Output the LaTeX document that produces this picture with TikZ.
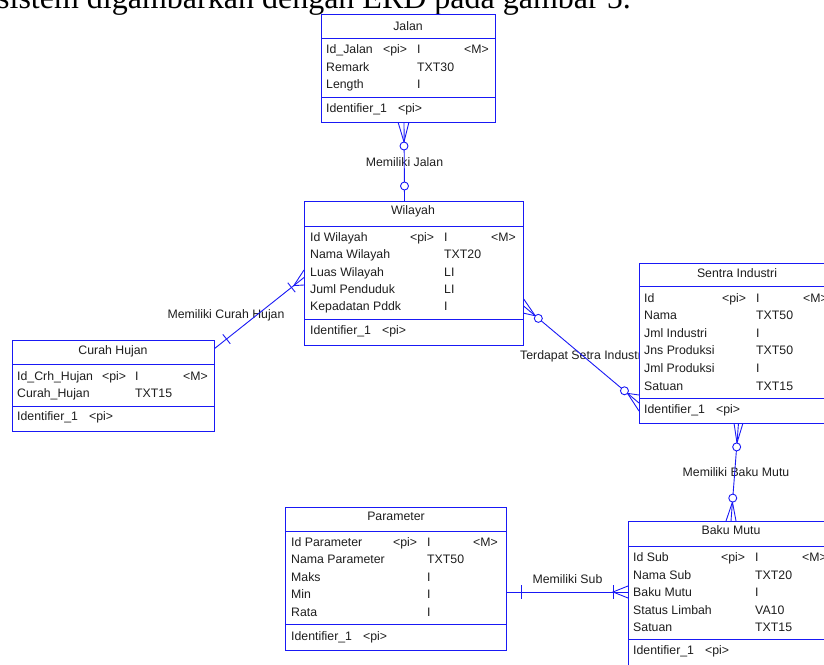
\documentclass[tikz,border=0pt]{standalone}
\usepackage{fontspec}
\setmainfont{Liberation Sans}
\newfontfamily\serifdoc{Liberation Serif}
\usetikzlibrary{calc,backgrounds}
\definecolor{erdblue}{RGB}{25,25,245}
\definecolor{erdtext}{RGB}{30,30,30}
\newcounter{tn}
\newcommand\tx[3]{\stepcounter{tn}\node[lbl,anchor=base west,name=t\number\value{tn}] at (#1,{#2+4.3}) {#3};}
\newcommand\tc[3]{\stepcounter{tn}\node[lbl,anchor=base,name=t\number\value{tn}] at (#1,{#2+4.3}) {#3};}
\begin{document}
\begin{tikzpicture}[x=1pt,y=-1pt,
 ent/.style={draw=erdblue,fill=white,line width=0.9pt,rectangle,anchor=north west,inner sep=0pt,outer sep=0pt},
 sepline/.style={draw=erdblue,line width=0.9pt},
 lbl/.style={font=\fontsize{12.3}{14}\selectfont,text=erdtext,inner sep=0pt},
 rel/.style={draw=erdblue,line width=0.9pt},
 ring/.style={draw=erdblue,fill=white,line width=0.9pt}]
\useasboundingbox (0,0) rectangle (824,664);
\clip (0,0) rectangle (824,664);

% caption line of the document (cut off at the top)
\node[name=caption,anchor=base west,inner sep=0pt,font=\serifdoc\fontsize{32}{36}\selectfont,text=black] at (-3,8) {sistem digambarkan dengan ERD pada gambar 5.};

% ---------- Jalan
\node[ent,minimum width=174pt,minimum height=108pt] (jalan) at (321,14) {};
\draw[sepline] ($(jalan.north west)+(0,24)$) -- ($(jalan.north east)+(0,24)$);
\draw[sepline] ($(jalan.north west)+(0,83)$) -- ($(jalan.north east)+(0,83)$);
\tc{408}{26}{Jalan}
\tx{326}{49.3}{Id\_Jalan}\tx{383}{49.3}{<pi>}\tx{417}{49.3}{I}\tx{464}{49.3}{<M>}
\tx{326}{67}{Remark}\tx{417}{67}{TXT30}
\tx{326}{84.5}{Length}\tx{417}{84.5}{I}
\tx{326}{107.7}{Identifier\_1}\tx{398}{107.7}{<pi>}

% ---------- Wilayah
\node[ent,minimum width=219pt,minimum height=144pt] (wilayah) at (304,201) {};
\draw[sepline] ($(wilayah.north west)+(0,25)$) -- ($(wilayah.north east)+(0,25)$);
\draw[sepline] ($(wilayah.north west)+(0,118)$) -- ($(wilayah.north east)+(0,118)$);
\tc{413}{210}{Wilayah}
\tx{310}{237}{Id Wilayah}\tx{410}{237}{<pi>}\tx{444}{237}{I}\tx{491}{237}{<M>}
\tx{310}{254.5}{Nama Wilayah}\tx{444}{254.5}{TXT20}
\tx{310}{272}{Luas Wilayah}\tx{444}{272}{LI}
\tx{310}{289}{Juml Penduduk}\tx{444}{289}{LI}
\tx{310}{306}{Kepadatan Pddk}\tx{444}{306}{I}
\tx{310}{330}{Identifier\_1}\tx{382}{330}{<pi>}

% ---------- Curah Hujan
\node[ent,minimum width=202pt,minimum height=91pt] (curah) at (12,340) {};
\draw[sepline] ($(curah.north west)+(0,24)$) -- ($(curah.north east)+(0,24)$);
\draw[sepline] ($(curah.north west)+(0,66)$) -- ($(curah.north east)+(0,66)$);
\tc{113}{350}{Curah Hujan}
\tx{17}{376}{Id\_Crh\_Hujan}\tx{102}{376}{<pi>}\tx{135}{376}{I}\tx{183}{376}{<M>}
\tx{17}{393}{Curah\_Hujan}\tx{135}{393}{TXT15}
\tx{17}{416}{Identifier\_1}\tx{89}{416}{<pi>}

% ---------- Sentra Industri
\node[ent,minimum width=200pt,minimum height=160pt] (sentra) at (639,263) {};
\draw[sepline] ($(sentra.north west)+(0,23)$) -- ($(sentra.north east)+(0,23)$);
\draw[sepline] ($(sentra.north west)+(0,135)$) -- ($(sentra.north east)+(0,135)$);
\tc{737}{273}{Sentra Industri}
\tx{644}{297.7}{Id}\tx{722}{297.7}{<pi>}\tx{756}{297.7}{I}\tx{803}{297.7}{<M>}
\tx{644}{315}{Nama}\tx{756}{315}{TXT50}
\tx{644}{332.7}{Jml Industri}\tx{756}{332.7}{I}
\tx{644}{350}{Jns Produksi}\tx{756}{350}{TXT50}
\tx{644}{368.3}{Jml Produksi}\tx{756}{368.3}{I}
\tx{644}{386}{Satuan}\tx{756}{386}{TXT15}
\tx{644}{409.3}{Identifier\_1}\tx{716}{409.3}{<pi>}

% ---------- Baku Mutu
\node[ent,minimum width=210pt,minimum height=150pt] (baku) at (628,521) {};
\draw[sepline] ($(baku.north west)+(0,25)$) -- ($(baku.north east)+(0,25)$);
\draw[sepline] ($(baku.north west)+(0,118)$) -- ($(baku.north east)+(0,118)$);
\tc{731}{530}{Baku Mutu}
\tx{633}{557}{Id Sub}\tx{721}{557}{<pi>}\tx{755}{557}{I}\tx{802}{557}{<M>}
\tx{633}{575}{Nama Sub}\tx{755}{575}{TXT20}
\tx{633}{592}{Baku Mutu}\tx{755}{592}{I}
\tx{633}{610}{Status Limbah}\tx{755}{610}{VA10}
\tx{633}{627}{Satuan}\tx{755}{627}{TXT15}
\tx{633}{650}{Identifier\_1}\tx{705}{650}{<pi>}

% ---------- Parameter
\node[ent,minimum width=221pt,minimum height=143pt] (param) at (285,507) {};
\draw[sepline] ($(param.north west)+(0,24)$) -- ($(param.north east)+(0,24)$);
\draw[sepline] ($(param.north west)+(0,117)$) -- ($(param.north east)+(0,117)$);
\tc{396}{516}{Parameter}
\tx{291}{542}{Id Parameter}\tx{393}{542}{<pi>}\tx{427}{542}{I}\tx{473}{542}{<M>}
\tx{291}{559.5}{Nama Parameter}\tx{427}{559.5}{TXT50}
\tx{291}{577}{Maks}\tx{427}{577}{I}
\tx{291}{594}{Min}\tx{427}{594}{I}
\tx{291}{612}{Rata}\tx{427}{612}{I}
\tx{291}{636}{Identifier\_1}\tx{363}{636}{<pi>}

% ---------- relationships (behind the entities)
\begin{pgfonlayer}{background}
\tc{404.5}{162}{Memiliki Jalan}
\tc{226}{314}{Memiliki Curah Hujan}
\tx{520}{355}{Terdapat Setra Industri}
\tc{736}{472}{Memiliki Baku Mutu}
\tc{567.5}{579}{Memiliki Sub}

% Jalan - Wilayah
\coordinate (ja) at ($(jalan.south west)+(83,0)$);
\coordinate (wa) at ($(wilayah.north west)+(100.5,0)$);
\draw[rel] (ja) -- (wa);
\draw[rel] ($(ja)+(-6,0)$) -- ($(ja)+(0,20)$) -- ($(ja)+(5,0)$);
\draw[ring] ($(ja)+(0,24)$) circle[radius=4pt];
\draw[ring] ($(wa)+(0,-15)$) circle[radius=4pt];

% Curah Hujan - Wilayah
\coordinate (ca) at ($(curah.north east)+(0,9)$);
\coordinate (wb) at ($(wilayah.north west)+(0,76.5)$);
\draw[rel] (ca) -- (wb);
\draw[rel] ($(wb)+(0,-7.5)$) -- ($(wb)!13pt!(ca)$) -- ($(wb)+(0,7.5)$);
\draw[rel] ($(wb)!16pt!(ca)!6pt!90:(ca)$) -- ($(wb)!16pt!(ca)!6pt!-90:(ca)$);
\draw[rel] ($(ca)!16pt!(wb)!6pt!90:(wb)$) -- ($(ca)!16pt!(wb)!6pt!-90:(wb)$);

% Wilayah - Sentra Industri
\coordinate (wc) at ($(wilayah.north east)+(0,104.5)$);
\coordinate (sa) at ($(sentra.north west)+(0,140)$);
\draw[rel] (wc) -- (sa);
\draw[rel] ($(wc)+(0,-7.5)$) -- ($(wc)!16pt!(sa)$) -- ($(wc)+(0,7.5)$);
\draw[rel] ($(sa)+(0,-8)$) -- ($(sa)!15pt!(wc)$) -- ($(sa)+(0,8)$);
\draw[ring] ($(wc)!20pt!(sa)$) circle[radius=4pt];
\draw[ring] ($(sa)!19pt!(wc)$) circle[radius=4pt];

% Sentra Industri - Baku Mutu
\coordinate (sb) at ($(sentra.south west)+(99.5,0)$);
\coordinate (bb) at ($(baku.north west)+(103,0)$);
\draw[rel] (sb) -- (bb);
\draw[rel] ($(sb)+(-4.5,0)$) -- ($(sb)!20pt!(bb)$) -- ($(sb)+(4.5,0)$);
\draw[rel] ($(bb)+(-5,0)$) -- ($(bb)!19pt!(sb)$) -- ($(bb)+(5,0)$);
\draw[ring] ($(sb)!24pt!(bb)$) circle[radius=4pt];
\draw[ring] ($(bb)!23pt!(sb)$) circle[radius=4pt];

% Parameter - Baku Mutu
\coordinate (pa) at ($(param.north east)+(0,85)$);
\coordinate (bc) at ($(baku.north west)+(0,71)$);
\draw[rel] (pa) -- (bc);
\draw[rel] ($(bc)+(0,-6)$) -- ($(bc)+(-15,0)$) -- ($(bc)+(0,6)$);
\draw[rel] ($(bc)+(-15,-7)$) -- ($(bc)+(-15,7)$);
\draw[rel] ($(pa)+(15,-7)$) -- ($(pa)+(15,7)$);
\end{pgfonlayer}
\end{tikzpicture}
\end{document}
